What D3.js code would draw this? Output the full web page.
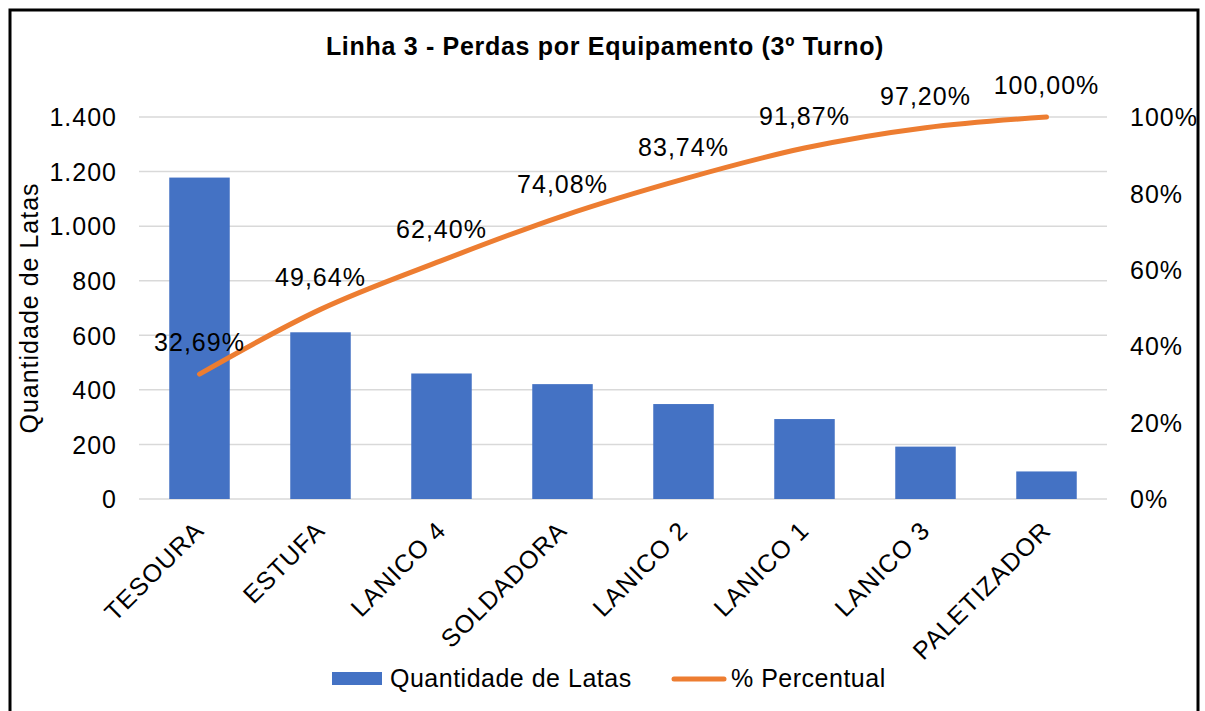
<!DOCTYPE html>
<html>
<head>
<meta charset="utf-8">
<script src="https://cdn.jsdelivr.net/npm/d3@7"></script>
<style>
  body { margin: 0; background: #fff; }
  text { font-family: "Liberation Sans", Arial, sans-serif; fill: #000; letter-spacing: 1px; }
</style>
</head>
<body>
<div id="chart"></div>
<script>
// data
var categories = ["TESOURA", "ESTUFA", "LANICO 4", "SOLDADORA", "LANICO 2", "LANICO 1", "LANICO 3", "PALETIZADOR"];
var quantidade = [1178, 611, 460, 421, 348, 293, 192, 101];
var percentual = [32.69, 49.64, 62.40, 74.08, 83.74, 91.87, 97.20, 100.00];
var leftTicks = [0, 200, 400, 600, 800, 1000, 1200, 1400];
var rightTicks = [0, 20, 40, 60, 80, 100];

var width = 1205, height = 711;
var margin = { top: 117, left: 139, right: 98, bottom: 212 };
var fs = 25;

var svg = d3.select("#chart").append("svg")
  .attr("width", width)
  .attr("height", height);

svg.append("rect")
  .attr("x", 0).attr("y", 0).attr("width", width).attr("height", height)
  .attr("fill", "#fff");

// outer frame (bottom edge is cut off in the picture)
svg.append("rect")
  .attr("x", 10).attr("y", 10)
  .attr("width", 1188).attr("height", 740)
  .attr("fill", "none").attr("stroke", "#000").attr("stroke-width", 3);

var x = d3.scaleBand()
  .domain(categories)
  .range([margin.left, width - margin.right])
  .paddingInner(0.5).paddingOuter(0.25);

var y = d3.scaleLinear().domain([0, 1400]).range([height - margin.bottom, margin.top]);
var y2 = d3.scaleLinear().domain([0, 100]).range([height - margin.bottom, margin.top]);

// gridlines
svg.append("g").selectAll("line").data(leftTicks).enter().append("line")
  .attr("x1", margin.left).attr("x2", width - margin.right)
  .attr("y1", function(d) { return y(d); })
  .attr("y2", function(d) { return y(d); })
  .attr("stroke", "#d9d9d9").attr("stroke-width", 1.5);

// left axis
var yAxis = svg.append("g")
  .attr("transform", "translate(" + (margin.left - 19) + ",0)")
  .call(d3.axisLeft(y).tickValues(leftTicks).tickSize(0)
    .tickFormat(function(d) { return d3.format(",")(d).replace(/,/g, "."); }));
yAxis.select(".domain").remove();
yAxis.selectAll("text").attr("font-size", fs).attr("dy", "0.35em")
  .attr("font-family", "Liberation Sans, Arial, sans-serif").attr("fill", "#000");

// right axis
var yAxis2 = svg.append("g")
  .attr("transform", "translate(" + (width - margin.right + 20) + ",0)")
  .call(d3.axisRight(y2).tickValues(rightTicks).tickSize(0)
    .tickFormat(function(d) { return d + "%"; }));
yAxis2.select(".domain").remove();
yAxis2.selectAll("text").attr("font-size", fs).attr("dy", "0.35em")
  .attr("font-family", "Liberation Sans, Arial, sans-serif").attr("fill", "#000");

// bars
svg.append("g").selectAll("rect").data(categories).enter().append("rect")
  .attr("x", function(d) { return x(d); })
  .attr("y", function(d, i) { return y(quantidade[i]); })
  .attr("width", x.bandwidth())
  .attr("height", function(d, i) { return y(0) - y(quantidade[i]); })
  .attr("fill", "#4472c4");

// cumulative line
var line = d3.line()
  .x(function(d, i) { return x(categories[i]) + x.bandwidth() / 2; })
  .y(function(d) { return y2(d); })
  .curve(d3.curveCatmullRom.alpha(0.5));

svg.append("path")
  .datum(percentual)
  .attr("d", line)
  .attr("fill", "none")
  .attr("stroke", "#ed7d31")
  .attr("stroke-width", 5)
  .attr("stroke-linecap", "round")
  .attr("stroke-linejoin", "round");

// percent labels
svg.append("g").selectAll("text").data(percentual).enter().append("text")
  .attr("x", function(d, i) { return x(categories[i]) + x.bandwidth() / 2; })
  .attr("y", function(d) { return y2(d) - 23; })
  .attr("text-anchor", "middle")
  .attr("font-size", fs)
  .text(function(d) { return d.toFixed(2).replace(".", ",") + "%"; });

// category labels
svg.append("g").selectAll("text").data(categories).enter().append("text")
  .attr("transform", function(d) {
    return "translate(" + (x(d) + x.bandwidth() / 2 + 6) + "," + (y(0) + 33) + ") rotate(-45)";
  })
  .attr("text-anchor", "end")
  .attr("font-size", fs)
  .text(function(d) { return d; });

// title
svg.append("text")
  .attr("x", 605).attr("y", 55)
  .attr("text-anchor", "middle")
  .attr("font-size", fs).attr("font-weight", "bold")
  .style("letter-spacing", "0.7px")
  .text("Linha 3 - Perdas por Equipamento (3º Turno)");

// y axis title
svg.append("text")
  .attr("transform", "translate(38," + ((y(0) + y(1400)) / 2) + ") rotate(-90)")
  .attr("text-anchor", "middle")
  .attr("font-size", fs)
  .text("Quantidade de Latas");

// legend
var legend = svg.append("g");
legend.append("rect")
  .attr("x", 332).attr("y", 672).attr("width", 50).attr("height", 13)
  .attr("fill", "#4472c4");
legend.append("text")
  .attr("x", 390).attr("y", 687).attr("font-size", fs)
  .style("letter-spacing", "0.5px")
  .text("Quantidade de Latas");
legend.append("line")
  .attr("x1", 674).attr("x2", 724).attr("y1", 679).attr("y2", 679)
  .attr("stroke", "#ed7d31").attr("stroke-width", 5).attr("stroke-linecap", "round");
legend.append("text")
  .attr("x", 731).attr("y", 687).attr("font-size", fs)
  .style("letter-spacing", "0.5px")
  .text("% Percentual");
</script>
</body>
</html>
